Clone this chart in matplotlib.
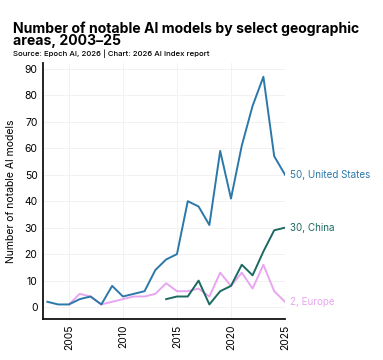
import matplotlib
matplotlib.use("Agg")
import matplotlib.pyplot as plt

plt.rcParams['font.family'] = ['Inter', 'DejaVu Sans']

us_years = list(range(2003, 2026))
us_values = [2, 1, 1, 3, 4, 1, 8, 4, 5, 6, 14, 18, 20, 40, 38, 31, 59, 41, 61, 76, 87, 57, 50]
cn_years = list(range(2014, 2026))
cn_values = [3, 4, 4, 10, 1, 6, 8, 16, 12, 21, 29, 30]
eu_years = list(range(2005, 2026))
eu_values = [1, 5, 4, 1, 2, 3, 4, 4, 5, 9, 6, 6, 7, 4, 13, 8, 13, 7, 16, 6, 2]

c_us = '#2b78a9'
c_cn = '#1b6a62'
c_eu = '#e8a6f0'

fig = plt.figure(figsize=(3.83, 3.6), dpi=100)
ax = fig.add_axes([43/383, 1-319/360, (285-43)/383, (319-63)/360])

ax.plot(eu_years, eu_values, color=c_eu, lw=1.4, zorder=2)
ax.plot(cn_years, cn_values, color=c_cn, lw=1.4, zorder=3)
ax.plot(us_years, us_values, color=c_us, lw=1.4, zorder=4)

ax.set_xlim(2002.6, 2025)
ax.set_ylim(-4.5, 92.2)
ax.set_yticks(range(0, 91, 10))
ax.set_xticks([2005, 2010, 2015, 2020, 2025])
ax.tick_params(axis='x', rotation=90, labelsize=7.5, length=0, pad=4)
ax.tick_params(axis='y', labelsize=7.5, length=0, pad=4)
ax.grid(True, color='#f2f2f2', lw=0.7)
ax.set_axisbelow(True)
for s in ['top', 'right']:
    ax.spines[s].set_visible(False)
for s in ['left', 'bottom']:
    ax.spines[s].set_linewidth(1.3)
    ax.spines[s].set_color('#111111')
ax.set_ylabel('Number of notable AI models', fontsize=7.5, labelpad=6)

ax.text(2025.5, us_values[-1], f'{us_values[-1]}, United States', color=c_us,
        fontsize=7.1, va='center', ha='left', clip_on=False)
ax.text(2025.5, cn_values[-1], f'{cn_values[-1]}, China', color=c_cn,
        fontsize=7.1, va='center', ha='left', clip_on=False)
ax.text(2025.5, eu_values[-1], f'{eu_values[-1]}, Europe', color=c_eu,
        fontsize=7.1, va='center', ha='left', clip_on=False)

fig.text(13/383, 1-33/360, 'Number of notable AI models by select geographic',
         fontsize=10.1, fontweight='bold', ha='left', va='baseline')
fig.text(13/383, 1-45.5/360, 'areas, 2003–25',
         fontsize=10.1, fontweight='bold', ha='left', va='baseline')
fig.text(13/383, 1-56/360, 'Source: Epoch AI, 2026 | Chart: 2026 AI Index report',
         fontsize=5.6, fontweight='medium', ha='left', va='baseline')

fig.savefig('out.png', dpi=100)
